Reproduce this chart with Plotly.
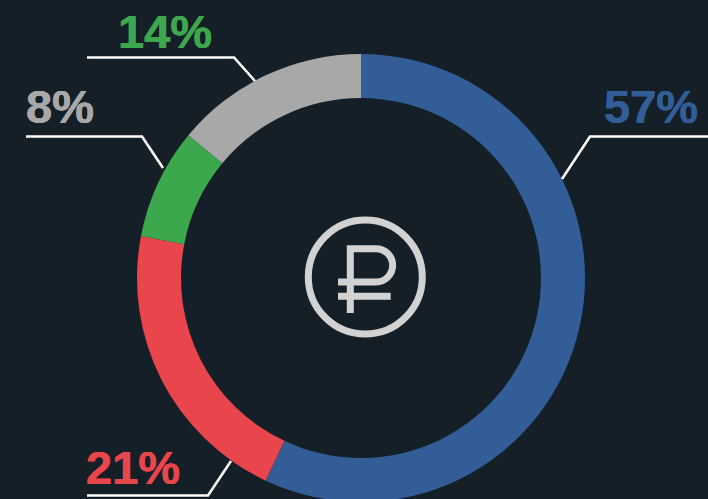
import plotly.graph_objects as go

W, H = 708, 560
BG = "#151f28"
ICON = "#d2d2d2"

categories = ["a", "b", "c", "d"]
values = [57, 21, 8, 14]
slice_colors = ["#335d96", "#e9454c", "#3ca74c", "#a8a8a8"]
label_colors = ["#335d96", "#e9454c", "#a8a8a8", "#3ca74c"]
label_centers = [(651, 124), (133, 485), (59.5, 124), (165, 48.5)]
leaders = [
    [(708, 136.5), (590, 136.5), (562, 179)],
    [(87, 495.5), (208, 495.5), (231, 461)],
    [(26, 136.5), (142, 136.5), (163, 168)],
    [(87, 57.5), (234, 57.5), (255, 81)],
]


def px(x):
    return x / W


def py(y):
    return 1 - y / H


def path(cmds):
    out = []
    for c in cmds:
        out.append(c[0] + " " + " ".join(f"{px(c[i]):.5f} {py(c[i + 1]):.5f}" for i in range(1, len(c), 2)))
    return " ".join(out)


fig = go.Figure(
    go.Pie(
        labels=categories,
        values=values,
        hole=180 / 224,
        sort=False,
        direction="clockwise",
        rotation=0,
        textinfo="none",
        hoverinfo="none",
        showlegend=False,
        marker=dict(colors=slice_colors, line=dict(width=0)),
        domain=dict(x=[137 / W, 585 / W], y=[(H - 502) / H, (H - 54) / H]),
    )
)

shapes = []
for pts in leaders:
    cmds = [("M",) + pts[0]] + [("L",) + p for p in pts[1:]]
    shapes.append(dict(type="path", xref="paper", yref="paper", path=path(cmds),
                       line=dict(color="white", width=2.6), fillcolor="rgba(0,0,0,0)"))

# Ruble icon
cx, cy, r = 365.3, 277, 57
shapes.append(dict(type="circle", xref="paper", yref="paper",
                   x0=px(cx - r), x1=px(cx + r), y0=py(cy + r), y1=py(cy - r),
                   line=dict(color=ICON, width=7), fillcolor="rgba(0,0,0,0)"))
k = 16.65 * 0.5523
bowl = [
    ("M", 350.3, 313), ("L", 350.3, 248.7), ("L", 376, 248.7),
    ("C", 376 + k, 248.7, 392.65, 265.35 - k, 392.65, 265.35),
    ("C", 392.65, 265.35 + k, 376 + k, 282, 376, 282),
    ("L", 338, 282),
]
shapes.append(dict(type="path", xref="paper", yref="paper", path=path(bowl),
                   line=dict(color=ICON, width=7), fillcolor="rgba(0,0,0,0)"))
shapes.append(dict(type="path", xref="paper", yref="paper",
                   path=path([("M", 338, 296.3), ("L", 390.7, 296.3)]),
                   line=dict(color=ICON, width=7)))

annotations = []
for v, col, (x, base) in zip(values, label_colors, label_centers):
    annotations.append(dict(
        text=f"<b>{v}%</b>", x=px(x), y=py(base), xref="paper", yref="paper",
        xanchor="center", yanchor="bottom", showarrow=False, yshift=-11,
        font=dict(family="Liberation Sans, Arial, sans-serif", size=47, color=col,
                  shadow=f"0.3px 0 0 {col}, -0.3px 0 0 {col}"),
    ))

fig.update_layout(
    width=W, height=H, autosize=False,
    margin=dict(l=0, r=0, t=0, b=0, pad=0),
    paper_bgcolor=BG, plot_bgcolor=BG,
    shapes=shapes, annotations=annotations,
)

fig.write_html(
    "out.html",
    config=dict(displayModeBar=False),
    post_script="document.documentElement.style.overflow='hidden';document.body.style.overflow='hidden';document.body.style.margin='0';document.body.style.background='#151f28';",
)
